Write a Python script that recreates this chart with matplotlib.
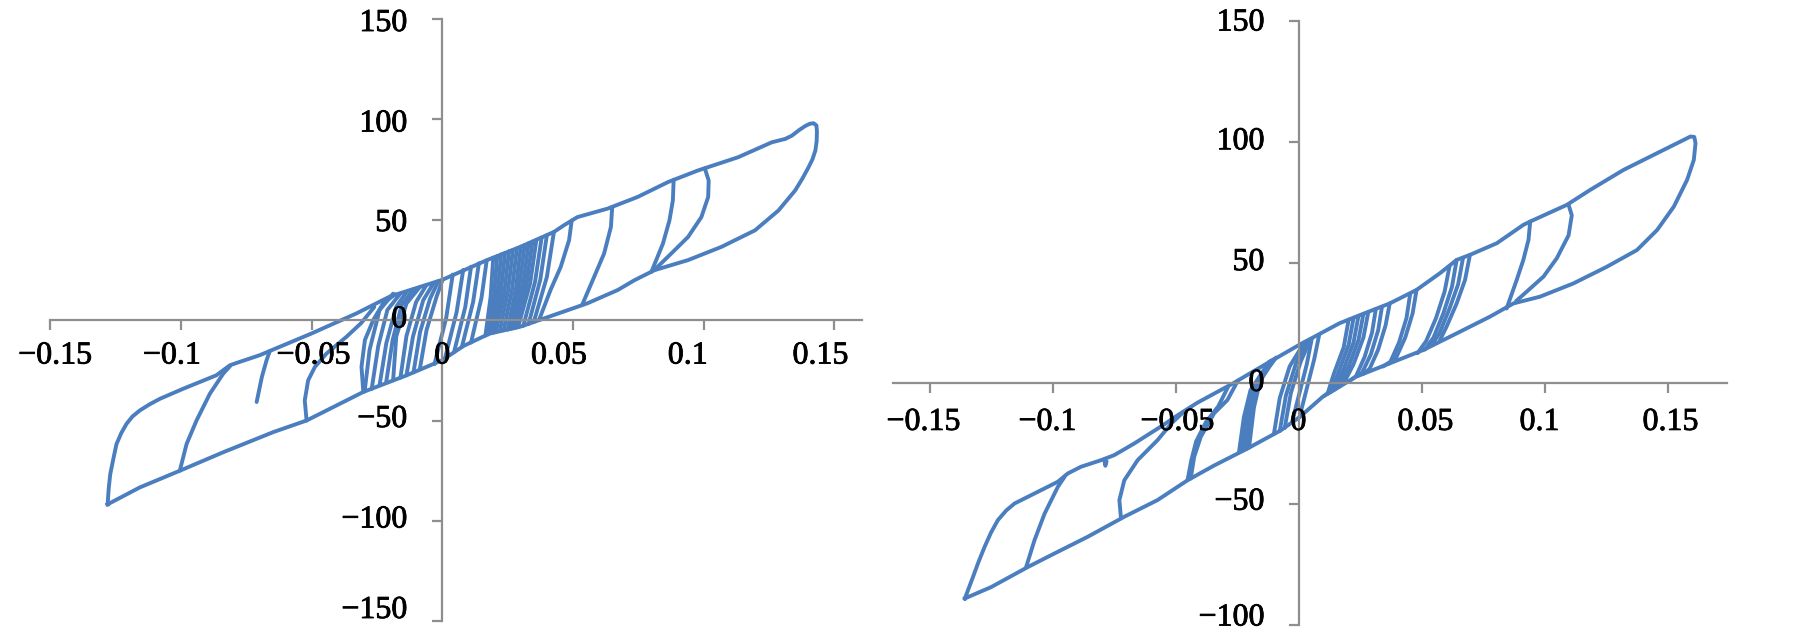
import matplotlib
matplotlib.use('Agg')
import matplotlib.pyplot as plt
import matplotlib.patheffects as pe

plt.rcParams['font.family'] = 'Liberation Serif'

BLUE = '#4a7ebf'
GREY = '#8e8e8e'

# ---- left panel: outer loop (reload, upper line, unload, lower line)
left_outer_x = [-0.128, -0.1276, -0.127, -0.1258, -0.1246, -0.1228, -0.1208, -0.1185, -0.1157,
                -0.112, -0.108, -0.0991, -0.0864, -0.0812, -0.0774, -0.0698, -0.0621, -0.05,
                -0.0328, -0.02, 0.0, 0.0171, 0.0299, 0.0427, 0.0465, 0.0517, 0.0632, 0.0747,
                0.0863, 0.0978, 0.1132, 0.126, 0.1312, 0.1337, 0.1365, 0.1388, 0.1405, 0.142,
                0.1431, 0.1433, 0.1432, 0.1427, 0.1416, 0.1401, 0.1378, 0.135, 0.1286, 0.1196,
                0.1068, 0.094, 0.0812, 0.0735, 0.0671, 0.0555, 0.0427, 0.0299, 0.018, 0.008,
                0.0, -0.0136, -0.0302, -0.0519, -0.0647, -0.0838, -0.1004, -0.1157, -0.128]
left_outer_y = [-91.7, -84, -76.7, -69, -61.7, -56.3, -51.7, -48, -45, -42, -39.2, -34.2, -27.5,
                -22.5, -20.8, -17.5, -13.3, -6.7, 3.3, 11.7, 20, 29.8, 36.4, 43.8, 47.1, 51.2,
                55.4, 61.2, 68.6, 74.4, 81, 88.4, 90.1, 91.7, 94.5, 96.5, 97.6, 97.9, 96.8, 94,
                89, 84.3, 80, 76, 70.5, 64.5, 54.5, 44.6, 36.4, 29.8, 24.8, 19.8, 14.9, 8.3,
                2.5, -3.3, -6.8, -13, -20, -27.5, -35.8, -50, -55.8, -65.8, -75, -83.3, -91.7]

# inner branches of the left panel
left_branch_x = [
    [-0.1004, -0.0978, -0.094, -0.0889, -0.0838, -0.0812],
    [-0.066, -0.0672, -0.069, -0.071],
    [-0.0519, -0.0526, -0.0513, -0.0487, -0.0443, -0.0366, -0.031, -0.026],
    [-0.0302, -0.0309, -0.0296, -0.0264, -0.0226, -0.018],
    [-0.0297, -0.0278, -0.024, -0.0188],
    [-0.027, -0.0245, -0.021, -0.016],
    [-0.024, -0.0214, -0.0176, -0.0137],
    [-0.0215, -0.019, -0.0155, -0.011],
    [-0.0188, -0.0176, -0.0137, -0.0086],
    [-0.016, -0.0137, -0.010, -0.006],
    [-0.0137, -0.0112, -0.0073, -0.0035],
    [-0.011, -0.0085, -0.0047, -0.0015],
    [-0.0086, -0.006, -0.0022, 0.0],
    [0.004, 0.0015, -0.003],
    [0.008, 0.0055, 0.001],
    [0.011, 0.0088, 0.0045],
    [0.014, 0.0118, 0.0075],
    [0.017, 0.015, 0.011],
    [0.0195, 0.0185, 0.0165],
    [0.021, 0.0198, 0.0175],
    [0.0225, 0.0211, 0.0185],
    [0.024, 0.0224, 0.0195],
    [0.0255, 0.0238, 0.0205],
    [0.027, 0.0252, 0.022],
    [0.0285, 0.0267, 0.0235],
    [0.030, 0.0282, 0.025],
    [0.0315, 0.0295, 0.026],
    [0.033, 0.0309, 0.027],
    [0.0345, 0.0322, 0.028],
    [0.036, 0.0336, 0.029],
    [0.038, 0.0355, 0.031],
    [0.040, 0.0375, 0.033],
    [0.0427, 0.040, 0.035],
    [0.0495, 0.0485, 0.0453, 0.0414, 0.037],
    [0.065, 0.0645, 0.0619, 0.0581, 0.0535],
    [0.0885, 0.0882, 0.0869, 0.0844, 0.080],
    [0.1004, 0.1019, 0.1017, 0.0991, 0.094, 0.0876, 0.0812],
]
left_branch_y = [
    [-75, -61.7, -50, -36.7, -26.7, -23],
    [-15.5, -20, -28.3, -40.8],
    [-50, -40, -30, -23.3, -16.7, -8.3, -1.5, 6.5],
    [-35.8, -23.3, -10, 0, 8.3, 12.8],
    [-35.5, -14.8, 4.9, 13.1],
    [-34.3, -13, 5, 13.2],
    [-32.5, -11.5, 6.6, 13.9],
    [-31.3, -10, 7.5, 15.4],
    [-30, -8.2, 8.2, 16.4],
    [-28.7, -8, 9, 17.5],
    [-27.5, -8.2, 9.8, 18],
    [-26, -6, 10.5, 19.4],
    [-24.5, -4.9, 11.5, 19.7],
    [22.6, 1, -22],
    [24.9, 4, -19.2],
    [26.5, 6.5, -16],
    [28.2, 9, -13.4],
    [29.7, 11, -11.2],
    [31.0, 11.6, -7.8],
    [31.8, 12.3, -7.2],
    [32.6, 13.0, -6.6],
    [33.4, 13.6, -6.3],
    [34.2, 14.1, -6.0],
    [34.9, 14.7, -5.5],
    [35.6, 15.3, -5.1],
    [36.5, 15.9, -4.8],
    [37.3, 16.4, -4.5],
    [38.2, 17.0, -4.2],
    [39.0, 17.6, -3.9],
    [39.9, 18.2, -3.6],
    [41.0, 19.1, -2.9],
    [42.2, 20.1, -2.0],
    [43.8, 21.4, -1.0],
    [49.5, 39.7, 26.4, 14.9, 0],
    [56.2, 46.3, 33.1, 21.5, 7.5],
    [69.8, 59.5, 49.6, 38, 24],
    [75.5, 69.4, 61.2, 51.2, 41.3, 33.1, 25],
]

# ---- right panel
right_outer_x = [-0.136, -0.1327, -0.1305, -0.128, -0.1254, -0.1226, -0.1192, -0.1158, -0.1064,
                 -0.0982, -0.0942, -0.0888, -0.0807, -0.0753, -0.0672, -0.055, -0.05, -0.0415,
                 -0.027, -0.0212, -0.0145, 0.0, 0.0163, 0.0299, 0.0367, 0.0476, 0.0571, 0.0639,
                 0.0693, 0.0802, 0.091, 0.0938, 0.1087, 0.1182, 0.1318, 0.1454, 0.159, 0.1605,
                 0.161, 0.1603, 0.1576, 0.1522, 0.1454, 0.1372, 0.125, 0.1114, 0.0978, 0.087,
                 0.0774, 0.0639, 0.0503, 0.0367, 0.0231, 0.0095, 0.0, -0.0077, -0.0212, -0.0347,
                 -0.0455, -0.0577, -0.0712, -0.0861, -0.0996, -0.1104, -0.1253, -0.136]
right_outer_y = [-89, -80.1, -74, -67.7, -61.8, -56.6, -52.6, -49.7, -44.9, -40.7, -37.3, -34.5,
                 -31.8, -29.7, -24.9, -17, -13.5, -8, 0, 3.5, 7.5, 16, 24.9, 30.4, 33.1, 38.7,
                 45.6, 51.1, 53.2, 58, 65.6, 67, 73.9, 80.1, 88.4, 95.3, 102.2, 102, 99.4, 92.5,
                 84.3, 73.2, 63.5, 55.2, 48.3, 41.4, 35.9, 33.1, 27.6, 20.7, 13.8, 8.3, 2.8, -5.5,
                 -14, -19.5, -27, -34, -40.1, -48.3, -55.2, -63.5, -70.4, -76, -84.3, -89]

right_branch_x = [
    [-0.1111, -0.1077, -0.1036, -0.0982, -0.0955],
    [-0.0793, -0.0789, -0.0784],
    [-0.0726, -0.0732, -0.0712, -0.0658, -0.0577, -0.052, -0.047],
    [-0.0455, -0.044, -0.042, -0.038, -0.033, -0.029],
    [-0.0442, -0.0428, -0.0401, -0.0347, -0.0293, -0.025],
    [-0.0246, -0.0226, -0.0199, -0.0145, -0.0118],
    [-0.0235, -0.0215, -0.019, -0.015, -0.0125],
    [-0.0225, -0.0205, -0.018, -0.014, -0.0115],
    [-0.0215, -0.0195, -0.017, -0.013, -0.0105],
    [-0.0205, -0.0185, -0.016, -0.012, -0.0095],
    [-0.0104, -0.008, -0.004, 0.002],
    [-0.008, -0.0055, -0.0015, 0.003],
    [-0.006, -0.0035, 0.0005, 0.0045],
    [0.005, 0.003, 0.0, -0.003],
    [0.008, 0.006, 0.003, 0.0],
    [0.020, 0.018, 0.014, 0.0115, 0.010],
    [0.022, 0.020, 0.016, 0.013, 0.0115],
    [0.024, 0.022, 0.018, 0.0145, 0.013],
    [0.026, 0.024, 0.020, 0.016, 0.0145],
    [0.028, 0.026, 0.022, 0.018, 0.016],
    [0.031, 0.0295, 0.0265, 0.023, 0.021],
    [0.0335, 0.032, 0.029, 0.0255, 0.0235],
    [0.0367, 0.035, 0.032, 0.0285, 0.026],
    [0.045, 0.0435, 0.0405, 0.037, 0.034],
    [0.0476, 0.046, 0.043, 0.039, 0.036],
    [0.061, 0.059, 0.0555, 0.0515, 0.048],
    [0.0639, 0.062, 0.0585, 0.0545, 0.051],
    [0.0665, 0.0645, 0.061, 0.057, 0.054],
    [0.0693, 0.0673, 0.0639, 0.0598, 0.0571],
    [0.0938, 0.0931, 0.091, 0.0883, 0.0842],
    [0.1094, 0.1107, 0.1094, 0.1046, 0.0992, 0.088],
]
right_branch_y = [
    [-76, -64.9, -53.9, -42.8, -38.7],
    [-31.8, -34.1, -32.3],
    [-55.2, -48.3, -40.1, -31.8, -23.5, -16.5, -11.7],
    [-40.1, -32, -24, -16, -9.5, -1.4],
    [-39.4, -30.4, -22.1, -12.4, -6.9, 1.2],
    [-28.6, -14, -2.8, 5.5, 9.2],
    [-28.1, -13, -2, 4.5, 8.8],
    [-27.6, -12, -1, 5.5, 9.5],
    [-27.1, -11, 0, 6.5, 10],
    [-26.6, -10, 1, 7.2, 10.7],
    [-21, -6, 7, 17],
    [-19.7, -5, 8, 17.5],
    [-18.5, -4, 9, 18.2],
    [18.5, 8, -4, -16],
    [20, 10, -2, -14],
    [26.4, 15, 4, -4, -5.2],
    [27.2, 16, 5, -3, -4.3],
    [28, 17, 6, -2, -3.4],
    [28.8, 18, 7, -1, -2.5],
    [29.6, 19, 8, 0, -1.5],
    [30.5, 21, 11, 3, 1.5],
    [31.5, 22, 12, 4.5, 3],
    [33.1, 24, 14, 6, 4],
    [37, 27, 17, 9, 7],
    [38.7, 29, 19, 10, 8],
    [48.5, 38, 27, 17.5, 12.5],
    [51.1, 40, 29, 19, 14],
    [52, 41, 31, 21, 16],
    [53.2, 42.8, 33.1, 23.5, 17.9],
    [67, 59.4, 51.1, 42.8, 31],
    [73.9, 69.6, 61.3, 51.8, 44.2, 34],
]

xtick_vals = [-0.15, -0.1, -0.05, 0, 0.05, 0.1, 0.15]
xtick_labels = ['\u22120.15', '\u22120.1', '\u22120.05', '0', '0.05', '0.1', '0.15']
left_ytick_vals = [-150, -100, -50, 0, 50, 100, 150]
left_ytick_labels = ['\u2212150', '\u2212100', '\u221250', '0', '50', '100', '150']
right_ytick_vals = [-100, -50, 0, 50, 100, 150]
right_ytick_labels = ['\u2212100', '\u221250', '0', '50', '100', '150']

# small pixel nudges of the tick labels as they sit in the source image
left_xlab_dx = [5, -9, 2, 0, -14, -16, -14]
left_ylab_dy = [11, 1, 1, 0, -4, -5, -5]
right_xlab_dx = [-7, -6, 1, -1, 3, -6, 2]
right_ylab_dy = [7, 2, 0, 0, 0, -2]

LABEL_FX = [pe.withStroke(linewidth=0.6, foreground='black')]


def style_axes(ax, xlim, ylim, yticks, ylabels, xdx, ydy, xlab_off):
    ax.set_xlim(*xlim)
    ax.set_ylim(*ylim)
    for side in ['top', 'right']:
        ax.spines[side].set_visible(False)
    ax.spines['left'].set_position(('data', 0))
    ax.spines['bottom'].set_position(('data', 0))
    for side in ['left', 'bottom']:
        ax.spines[side].set_color(GREY)
        ax.spines[side].set_linewidth(1.6)
    ax.set_xticks(xtick_vals)
    ax.set_yticks(yticks)
    ax.tick_params(axis='both', direction='out', length=7, width=1.6, color=GREY,
                   labelbottom=False, labelleft=False)
    for v, lab, dx in zip(xtick_vals, xtick_labels, xdx):
        ax.annotate(lab, xy=(v, 0), xytext=(dx, -xlab_off), textcoords='offset pixels',
                    ha='center', va='center', fontsize=23, color='black', zorder=5,
                    path_effects=LABEL_FX)
    for v, lab, dy in zip(yticks, ylabels, ydy):
        ax.annotate(lab, xy=(0, v), xytext=(-35, dy), textcoords='offset pixels',
                    ha='right', va='center', fontsize=23, color='black', zorder=5,
                    path_effects=LABEL_FX)
    ax.patch.set_visible(False)


fig = plt.figure(figsize=(18.05, 6.36), dpi=100)
ax1 = fig.add_axes([0.02776, 0.0228, 0.4496, 0.9481])
ax2 = fig.add_axes([0.4949, 0.0173, 0.4619, 0.9497])

LW = 2.8
ax1.plot(left_outer_x, left_outer_y, color=BLUE, lw=LW, solid_joinstyle='round')
for bx, by in zip(left_branch_x, left_branch_y):
    ax1.plot(bx, by, color=BLUE, lw=LW, solid_capstyle='round', solid_joinstyle='round')
style_axes(ax1, (-0.15, 0.1604), (-150, 150), left_ytick_vals, left_ytick_labels,
           left_xlab_dx, left_ylab_dy, 36)

ax2.plot(right_outer_x, right_outer_y, color=BLUE, lw=LW, solid_joinstyle='round')
for bx, by in zip(right_branch_x, right_branch_y):
    ax2.plot(bx, by, color=BLUE, lw=LW, solid_capstyle='round', solid_joinstyle='round')
style_axes(ax2, (-0.1651, 0.1738), (-100, 150), right_ytick_vals, right_ytick_labels,
           right_xlab_dx, right_ylab_dy, 39)

fig.savefig('out.png', dpi=100, facecolor='white')
